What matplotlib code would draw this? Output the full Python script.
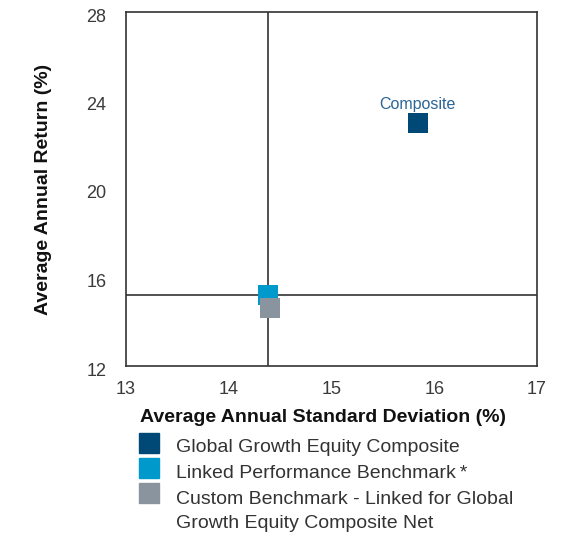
import matplotlib
matplotlib.use("Agg")
import matplotlib.pyplot as plt
import matplotlib.transforms as mtrans
from matplotlib.patches import Rectangle

plt.rcParams['font.family'] = ['Liberation Sans', 'DejaVu Sans']

names = ["Global Growth Equity Composite",
         "Linked Performance Benchmark\u2009*",
         "Custom Benchmark - Linked for Global\nGrowth Equity Composite Net"]
std_dev = [15.84, 14.38, 14.40]
returns = [23.0, 15.2, 14.62]
colors = ["#004876", "#0099cc", "#8a949f"]
ref_x = 14.38
ref_y = 15.2
xticks = [13, 14, 15, 16, 17]
yticks = [12, 16, 20, 24, 28]

fig = plt.figure(figsize=(5.67, 5.35), dpi=100)
ax = fig.add_axes([126/567, 1-366/535, (537-126)/567, (366-12)/535])
ax.set_xlim(13, 17)
ax.set_ylim(12, 28)

ax.axvline(ref_x, color="#333333", lw=1.2, zorder=1)
ax.axhline(ref_y, color="#333333", lw=1.2, zorder=1)

for x, y, c in zip(std_dev, returns, colors):
    ax.scatter([x], [y], marker="s", s=205, color=c, edgecolors="none", zorder=3)

ax.annotate("Composite", (std_dev[0], returns[0]), xytext=(0, 7.5), textcoords="offset points",
            ha="center", va="bottom", fontsize=11.5, color="#2a6496")

ax.set_xticks(xticks)
ax.set_yticks(yticks)
ax.tick_params(length=0, labelsize=13, colors="#3a3a3a")
ax.tick_params(axis="y", pad=14)
ax.tick_params(axis="x", pad=11)
offset = mtrans.ScaledTranslation(0, -3/100, fig.dpi_scale_trans)
for lbl in ax.get_yticklabels():
    lbl.set_transform(lbl.get_transform() + offset)
for s in ax.spines.values():
    s.set_color("#333333")
    s.set_linewidth(1.2)

ax.set_xlabel("Average Annual Standard Deviation (%)", fontsize=14, fontweight="bold",
              color="#111111")
ax.xaxis.set_label_coords(0.479, -43/354)
ax.set_ylabel("Average Annual Return (%)", fontsize=14, fontweight="bold",
              color="#111111", labelpad=25)

# legend
box_tops = [433, 458, 483]
text_y = [448, 474, 499]
line_step = 25
for top, c, ty, name in zip(box_tops, colors, text_y, names):
    fig.patches.append(Rectangle((139/567, 1-(top+20)/535), 20/567, 20/535,
                                 transform=fig.transFigure, color=c))
    for i, line in enumerate(name.split("\n")):
        fig.text(176/567, 1-(ty + i*line_step)/535, line, ha="left", va="center",
                 fontsize=14, color="#333333")

fig.savefig("out.png", dpi=100)
